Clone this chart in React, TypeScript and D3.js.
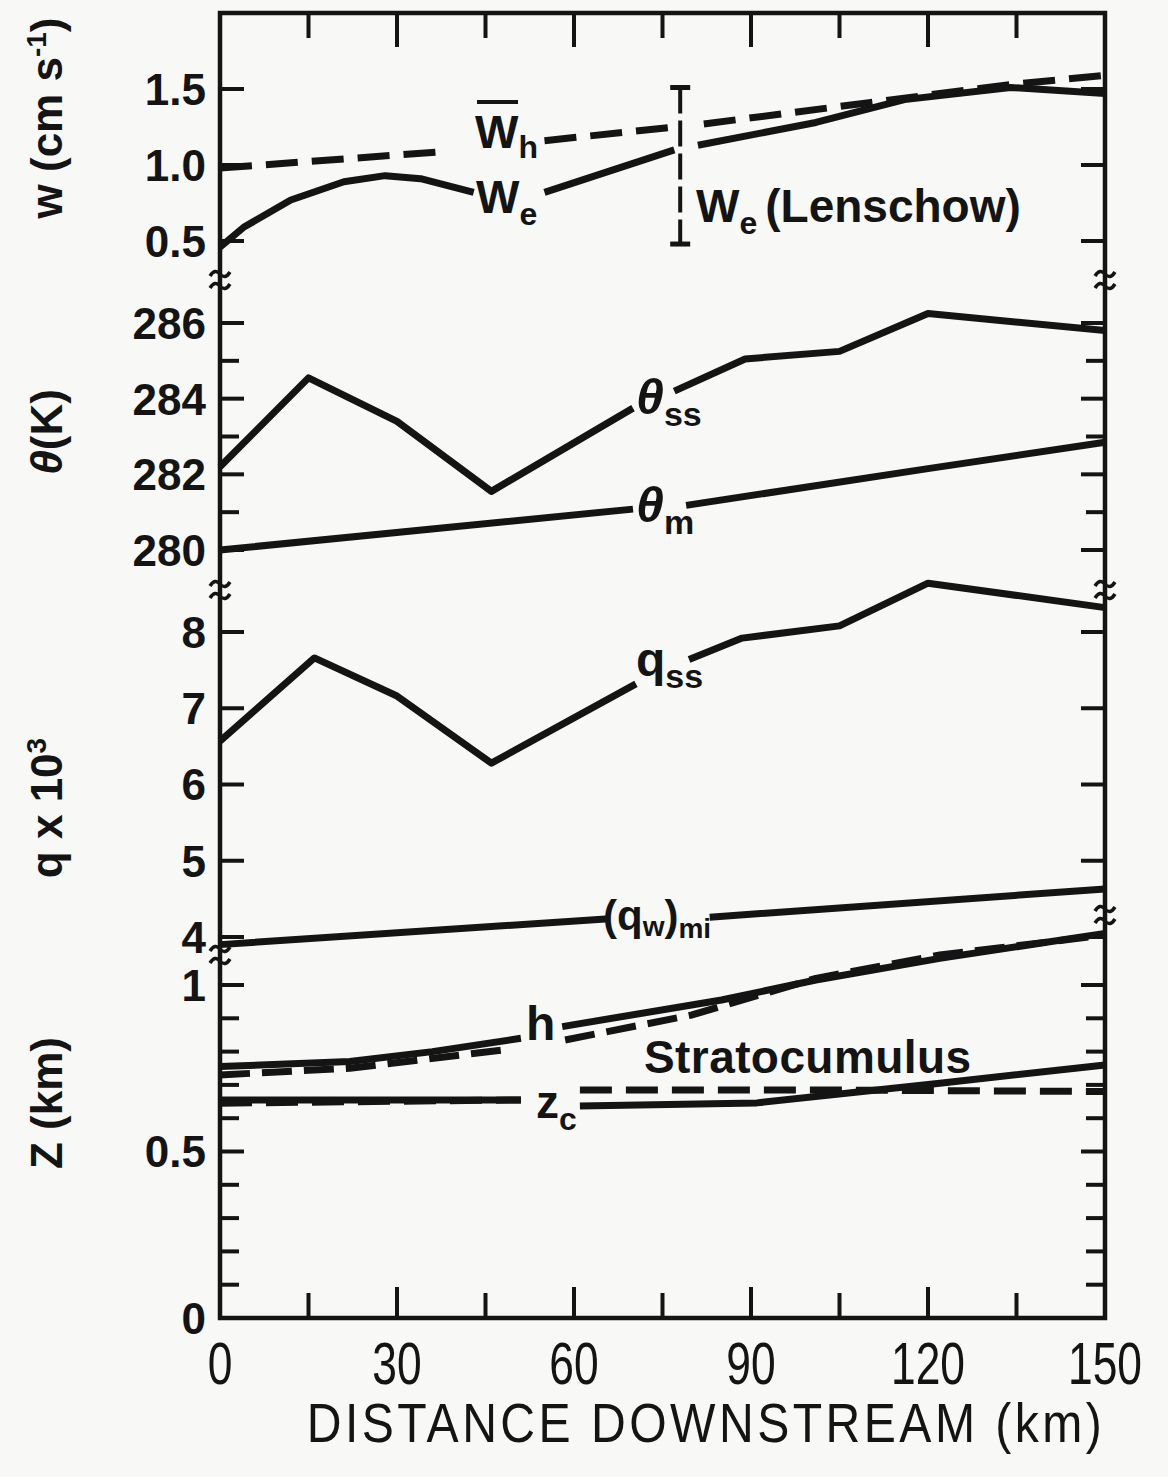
import React from 'react';
import * as d3 from 'd3';

// x axis: distance downstream (km)
const xLabels = [0, 30, 60, 90, 120, 150];
const xMinor = [15, 30, 45, 60, 75, 90, 105, 120, 135];

// y ticks of the four stacked panels
const wTicks = [0.5, 1.0, 1.5];
const thetaTicks = [280, 281, 282, 283, 284, 285, 286];
const thetaLabels = [280, 282, 284, 286];
const qTicks = [4, 5, 6, 7, 8];
const zTicks = [0.1, 0.2, 0.3, 0.4, 0.5, 0.6, 0.7, 0.8, 0.9, 1.0];
const zLabels = [0, 0.5, 1];

// entrainment velocity w_e (cm/s), null = gap for label / error bar
const weKm = [0, 4, 12, 21, 28, 34, 43, 49, 55, 77, 79, 81, 101, 116, 134, 150];
const weVal = [0.46, 0.59, 0.77, 0.89, 0.93, 0.91, 0.82, null, 0.82, 1.1, null, 1.13, 1.28, 1.43, 1.51, 1.47];
// mean subsidence w_h (dashed)
const whKm = [0, 38.5, 46, 55, 77, 79, 82, 110, 134, 150];
const whVal = [0.98, 1.09, null, 1.16, 1.25, null, 1.27, 1.41, 1.53, 1.59];
// Lenschow estimate (error bar)
const lenschowKm = 78;
const lenschowLo = 0.48;
const lenschowHi = 1.51;

// theta (K)
const thssKm = [0, 15, 30, 46, 70, 73, 77, 89, 105, 120, 150];
const thssVal = [282.2, 284.55, 283.4, 281.55, 283.75, null, 284.2, 285.05, 285.25, 286.25, 285.8];
const thmKm = [0, 70, 75, 79, 120, 150];
const thmVal = [280.0, 281.08, null, 281.18, 282.15, 282.85];

// q x 10^3
const qssKm = [0, 16, 30, 46, 70.5, 75, 79.5, 88.5, 105, 120, 150];
const qssVal = [6.57, 7.66, 7.16, 6.28, 7.32, null, 7.64, 7.92, 8.08, 8.64, 8.32];
const qwKm = [0, 66, 75, 83, 150];
const qwVal = [3.9, 4.24, null, 4.26, 4.63];

// heights (km)
const hKm = [0, 22, 36, 51, 55, 58, 85, 101, 122, 150];
const hVal = [0.755, 0.77, 0.8, 0.84, null, 0.875, 0.955, 1.015, 1.08, 1.155];
const hdKm = [0, 22, 48, 53, 58.5, 80, 101, 122, 150];
const hdVal = [0.73, 0.75, 0.805, null, 0.835, 0.91, 1.02, 1.09, 1.15];
const zcKm = [0, 51, 56, 61, 91, 122, 150];
const zcVal = [0.655, 0.655, null, 0.637, 0.646, 0.705, 0.76];
const zcdKm = [0, 51, 56, 61, 101, 150];
const zcdVal = [0.645, 0.655, null, 0.685, 0.685, 0.68];

const INK = '#141414';
const FONT = '"Liberation Sans", Arial, sans-serif';

const left = 220, right = 1105, top = 13, bottom = 1318;

const x = d3.scaleLinear().domain([0, 150]).range([left, right]);
const yW = d3.scaleLinear().domain([0.5, 1.5]).range([241, 89]);
const yT = d3.scaleLinear().domain([280, 286]).range([550, 323]);
const yQ = d3.scaleLinear().domain([4, 8]).range([937, 632]);
const yZ = d3.scaleLinear().domain([0, 1]).range([bottom, 985]);

function pathOf(km: number[], vals: (number | null)[], y: d3.ScaleLinear<number, number>) {
  const pts = km.map((k, i) => [k, vals[i]] as [number, number | null]);
  const line = d3.line<[number, number | null]>()
    .defined(d => d[1] != null)
    .x(d => x(d[0]))
    .y(d => y(d[1] as number));
  return line(pts) || '';
}

const series = [
  { km: weKm, val: weVal, y: yW, dash: null },
  { km: whKm, val: whVal, y: yW, dash: '32 14' },
  { km: thssKm, val: thssVal, y: yT, dash: null },
  { km: thmKm, val: thmVal, y: yT, dash: null },
  { km: qssKm, val: qssVal, y: yQ, dash: null },
  { km: qwKm, val: qwVal, y: yQ, dash: null },
  { km: hKm, val: hVal, y: yZ, dash: null },
  { km: hdKm, val: hdVal, y: yZ, dash: '30 12' },
  { km: zcKm, val: zcVal, y: yZ, dash: null },
  { km: zcdKm, val: zcdVal, y: yZ, dash: '32 14' },
];

function BreakMark({ cx, cy }: { cx: number; cy: number }) {
  const t = (yy: number) => `M${cx - 10},${yy + 2} q5,-8 10,-2 t10,-2`;
  return (
    <g fill="none" stroke={INK} strokeWidth={3.5}>
      <path d={t(cy - 6)} />
      <path d={t(cy + 6)} />
    </g>
  );
}

function YTicks({ ticks, y, major }: { ticks: number[]; y: d3.ScaleLinear<number, number>; major: number[] }) {
  return (
    <g stroke={INK} strokeWidth={4}>
      {ticks.map(t => {
        const len = major.includes(t) ? 24 : 19;
        return (
          <g key={t}>
            <line x1={left} x2={left + len} y1={y(t)} y2={y(t)} />
            <line x1={right} x2={right - len} y1={y(t)} y2={y(t)} />
          </g>
        );
      })}
    </g>
  );
}

function YLabels({ ticks, y, fmt }: { ticks: number[]; y: d3.ScaleLinear<number, number>; fmt: (v: number) => string }) {
  return (
    <g fontFamily={FONT} fontWeight="bold" fontSize={44} fill={INK} textAnchor="end">
      {ticks.map(t => (
        <text key={t} x={206} y={y(t)} dy="0.36em">{fmt(t)}</text>
      ))}
    </g>
  );
}

export default function App() {
  return (
    <svg width={1168} height={1477} style={{ position: 'absolute', left: 0, top: 0 }}>
      <rect width={1168} height={1477} fill="#f8f8f6" />

      {/* frame */}
      <rect x={left} y={top} width={right - left} height={bottom - top} fill="none" stroke={INK} strokeWidth={4.5} />

      {/* x ticks top and bottom */}
      <g stroke={INK} strokeWidth={4}>
        {xMinor.map(k => {
          const long = k % 30 === 0;
          return (
            <g key={k}>
              <line x1={x(k)} x2={x(k)} y1={top} y2={top + (long ? 34 : 25)} />
              <line x1={x(k)} x2={x(k)} y1={bottom} y2={bottom - (long ? 31 : 25)} />
            </g>
          );
        })}
      </g>

      {/* y ticks */}
      <YTicks ticks={wTicks} y={yW} major={wTicks} />
      <YTicks ticks={thetaTicks} y={yT} major={thetaLabels} />
      <YTicks ticks={qTicks} y={yQ} major={qTicks} />
      <YTicks ticks={zTicks} y={yZ} major={[0.5, 1.0]} />

      <YLabels ticks={wTicks} y={yW} fmt={d3.format('.1f')} />
      <YLabels ticks={thetaLabels} y={yT} fmt={d3.format('d')} />
      <YLabels ticks={qTicks} y={yQ} fmt={d3.format('d')} />
      <YLabels ticks={zLabels} y={yZ} fmt={v => (v === 0.5 ? '0.5' : String(v))} />

      {/* axis breaks */}
      {[280, 590, 955].map(v => <BreakMark key={'l' + v} cx={left} cy={v} />)}
      {[280, 590, 915].map(v => <BreakMark key={'r' + v} cx={right} cy={v} />)}

      {/* curves */}
      <g fill="none" stroke={INK} strokeWidth={7} strokeLinejoin="round">
        {series.map((s, i) => (
          <path key={i} d={pathOf(s.km, s.val, s.y)} strokeDasharray={s.dash || undefined} />
        ))}
      </g>

      {/* Lenschow error bar */}
      <g stroke={INK} strokeWidth={4}>
        <line x1={x(lenschowKm)} x2={x(lenschowKm)} y1={yW(lenschowHi)} y2={yW(lenschowLo)} strokeDasharray="26 7" />
        <line x1={x(lenschowKm) - 10} x2={x(lenschowKm) + 10} y1={yW(lenschowHi)} y2={yW(lenschowHi)} strokeWidth={5} />
        <line x1={x(lenschowKm) - 10} x2={x(lenschowKm) + 10} y1={yW(lenschowLo)} y2={yW(lenschowLo)} strokeWidth={5} />
      </g>

      {/* curve labels */}
      <g fontFamily={FONT} fontWeight="bold" fill={INK}>
        <text x={475} y={148} fontSize={46}>W<tspan fontSize={32} dy={10}>h</tspan></text>
        <line x1={477} x2={518} y1={102} y2={102} stroke={INK} strokeWidth={4} />
        <text x={476} y={213} fontSize={46}>W<tspan fontSize={32} dy={12}>e</tspan></text>
        <text x={696} y={222} fontSize={46}>W<tspan fontSize={32} dy={12}>e</tspan><tspan dy={-12} dx={8}>(Lenschow)</tspan></text>

        <text x={636} y={414} fontSize={50} fontStyle="italic">θ<tspan fontStyle="normal" fontSize={34} dy={12}>ss</tspan></text>
        <text x={636} y={522} fontSize={50} fontStyle="italic">θ<tspan fontStyle="normal" fontSize={34} dy={12}>m</tspan></text>
        <text x={636} y={676} fontSize={48}>q<tspan fontSize={34} dy={12}>ss</tspan></text>
        <text x={603} y={930} fontSize={42}>(q<tspan fontSize={28} dy={6}>w</tspan><tspan dy={-6}>)</tspan><tspan fontSize={28} dy={8}>mi</tspan></text>

        <text x={526} y={1040} fontSize={48}>h</text>
        <text x={536} y={1118} fontSize={46}>z<tspan fontSize={32} dy={12}>c</tspan></text>
        <text x={644} y={1073} fontSize={46} textLength={327}>Stratocumulus</text>
      </g>

      {/* x tick labels (narrow lettering) */}
      <g fontFamily={FONT} fontSize={60} fill={INK} textAnchor="middle">
        {xLabels.map(k => (
          <text key={k} transform={`translate(${x(k)},1384) scale(0.74,1)`}>{k}</text>
        ))}
      </g>
      <text transform="translate(706,1442) scale(0.86,1)" fontFamily={FONT} fontSize={56} letterSpacing={4}
        fill={INK} textAnchor="middle">
        DISTANCE DOWNSTREAM (km)
      </text>

      {/* y axis titles */}
      <g fontFamily={FONT} fontWeight="bold" fontSize={44} fill={INK} textAnchor="middle">
        <text transform="translate(62,118) rotate(-90)">w (cm s<tspan fontSize={28} dy={-16}>-1</tspan><tspan dy={16}>)</tspan></text>
        <text transform="translate(62,432) rotate(-90)" fontStyle="italic">θ<tspan fontStyle="normal">(K)</tspan></text>
        <text transform="translate(62,808) rotate(-90)">q x 10<tspan fontSize={28} dy={-16}>3</tspan></text>
        <text transform="translate(62,1103) rotate(-90)">Z (km)</text>
      </g>
    </svg>
  );
}
